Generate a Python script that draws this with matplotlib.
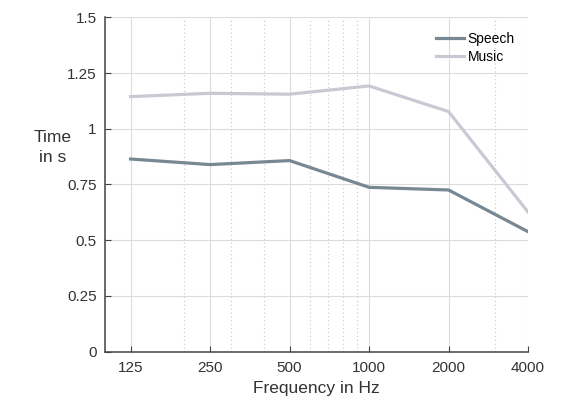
import matplotlib
matplotlib.use("Agg")
import matplotlib.pyplot as plt
from matplotlib.ticker import FixedLocator, LogLocator, NullFormatter

FREQS = [125, 250, 500, 1000, 2000, 4000]
SPEECH = [0.864, 0.839, 0.857, 0.737, 0.725, 0.538]
MUSIC = [1.144, 1.159, 1.155, 1.192, 1.077, 0.626]
Y_TICKS = [0, 0.25, 0.5, 0.75, 1, 1.25, 1.5]
Y_LABELS = ["0", "0.25", "0.5", "0.75", "1", "1.25", "1.5"]

SPEECH_COLOR = "#778892"
MUSIC_COLOR = "#c9c9d4"
TEXT_COLOR = "#333333"


def main():
    plt.rcParams["font.family"] = ["Liberation Sans", "DejaVu Sans"]

    fig = plt.figure(figsize=(5.75, 4.01), dpi=100)
    ax = fig.add_axes([0.1826, 0.1234, 0.7357, 0.8334])

    ax.plot(FREQS, SPEECH, color=SPEECH_COLOR, lw=2.3, label="Speech",
            solid_joinstyle="miter", zorder=3)
    ax.plot(FREQS, MUSIC, color=MUSIC_COLOR, lw=2.3, label="Music",
            solid_joinstyle="miter", zorder=3)

    ax.set_xscale("log")
    ax.set_xlim(100, 4000)
    ax.set_ylim(0, 1.5)

    ax.xaxis.set_major_locator(FixedLocator(FREQS))
    ax.set_xticklabels([str(f) for f in FREQS])
    ax.xaxis.set_minor_locator(LogLocator(base=10, subs=range(1, 10)))
    ax.xaxis.set_minor_formatter(NullFormatter())
    ax.set_yticks(Y_TICKS)
    ax.set_yticklabels(Y_LABELS)

    ax.grid(which="major", color="#dcdcdc", lw=0.8, ls="-", zorder=0)
    ax.grid(which="minor", axis="x", color="#c8c8c8", lw=0.8, ls=(0, (1, 2.5)),
            zorder=0)
    ax.set_axisbelow(True)

    for side in ["top", "right"]:
        ax.spines[side].set_visible(False)
    for side in ["left", "bottom"]:
        ax.spines[side].set_color("#444444")
        ax.spines[side].set_linewidth(1.1)

    ax.tick_params(which="major", direction="in", length=4, width=0.8,
                   color="#444444", labelsize=11, labelcolor=TEXT_COLOR)
    ax.tick_params(axis="x", which="major", pad=7)
    ax.tick_params(axis="y", which="major", pad=6)
    ax.tick_params(which="minor", length=0)

    ax.set_xlabel("Frequency in Hz", fontsize=12.5, color=TEXT_COLOR, labelpad=4)
    ax.set_ylabel("Time\nin s", fontsize=12.5, color=TEXT_COLOR, rotation=0,
                  ha="center", va="center", linespacing=1.45)
    ax.yaxis.set_label_coords(-0.123, 0.61)

    ax.legend(loc="upper right", frameon=False, fontsize=10, handlelength=2.0,
              handletextpad=0.25, labelspacing=0.3, borderaxespad=0.4,
              bbox_to_anchor=(0.995, 0.99))

    fig.savefig("out.png", dpi=100)


if __name__ == "__main__":
    main()
